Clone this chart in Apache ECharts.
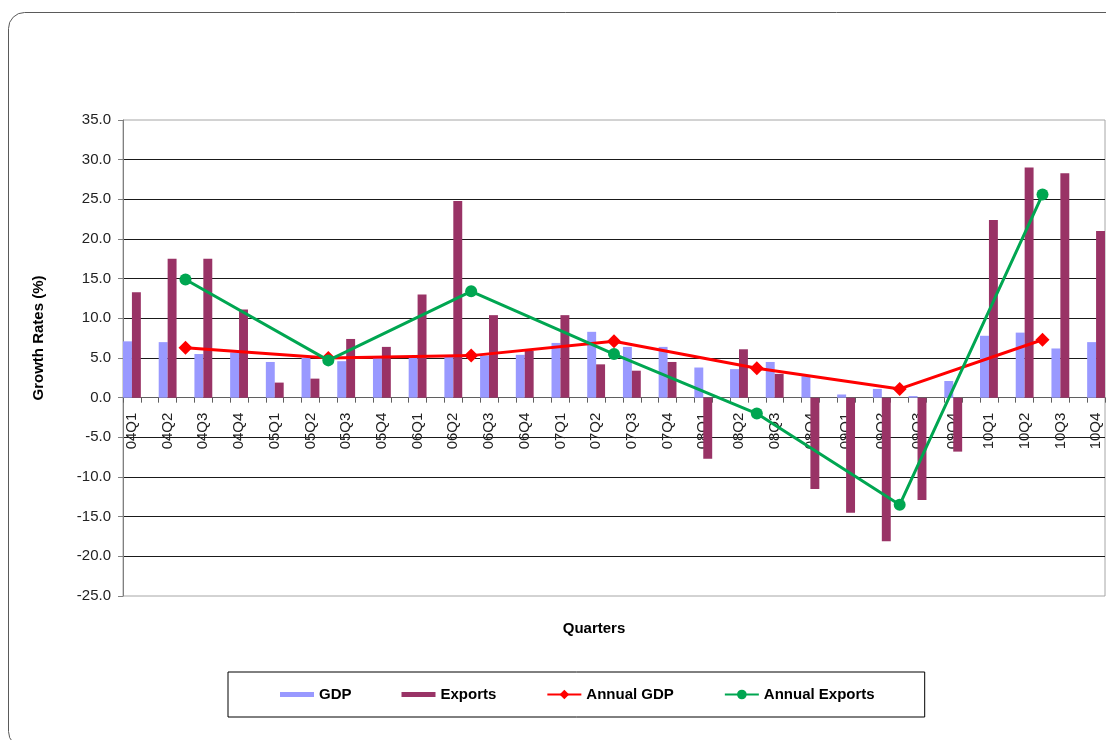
<!DOCTYPE html>
<html>
<head>
<meta charset="utf-8">
<title>Growth Rates: GDP and Exports</title>
<script src="https://cdn.jsdelivr.net/npm/echarts@6/dist/echarts.min.js"></script>
<style>
  html, body { margin: 0; padding: 0; background: #ffffff; }
  #chart { width: 1106px; height: 740px; }
</style>
</head>
<body>
<div id="chart"></div>
<script>
// Quarterly growth rates (%)
const quarters = ['04Q1','04Q2','04Q3','04Q4','05Q1','05Q2','05Q3','05Q4',
                  '06Q1','06Q2','06Q3','06Q4','07Q1','07Q2','07Q3','07Q4',
                  '08Q1','08Q2','08Q3','08Q4','09Q1','09Q2','09Q3','09Q4',
                  '10Q1','10Q2','10Q3','10Q4'];
const gdp = [7.1, 7.0, 5.5, 5.7, 4.5, 5.0, 4.6, 5.2,
             5.2, 5.2, 5.3, 5.4, 6.9, 8.3, 6.4, 6.4,
             3.8, 3.6, 4.5, 2.7, 0.4, 1.1, 0.2, 2.1,
             7.8, 8.2, 6.2, 7.0];
const exportsQ = [13.3, 17.5, 17.5, 11.1, 1.9, 2.4, 7.4, 6.4,
                  13.0, 24.8, 10.4, 5.9, 10.4, 4.2, 3.4, 4.5,
                  -7.7, 6.1, 3.0, -11.5, -14.5, -18.1, -12.9, -6.8,
                  22.4, 29.0, 28.3, 21.0];

// Annual growth rates (%), plotted mid-year
const years = ['2004','2005','2006','2007','2008','2009','2010'];
const annualGdp = [6.3, 5.0, 5.3, 7.1, 3.7, 1.1, 7.3];
const annualExports = [14.9, 4.7, 13.4, 5.5, -2.0, -13.5, 25.6];

// Y axis ticks
const yMin = -25, yMax = 35, yStep = 5;

// Slot layout: every quarter is followed by an empty spacer slot,
// annual points sit in the spacer between Q2 and Q3.
const slots = [];
const gdpSlots = [], expSlots = [], annGdpSlots = [], annExpSlots = [];
quarters.forEach((q, i) => {
  slots.push(q);
  gdpSlots.push(gdp[i]);
  expSlots.push(exportsQ[i]);
  annGdpSlots.push(null);
  annExpSlots.push(null);
  if (i < quarters.length - 1) {
    slots.push('');
    gdpSlots.push(null);
    expSlots.push(null);
    const isMidYear = (i % 4) === 1;
    const y = Math.floor(i / 4);
    annGdpSlots.push(isMidYear ? annualGdp[y] : null);
    annExpSlots.push(isMidYear ? annualExports[y] : null);
  }
});

const FONT = 'Liberation Sans, Arial, Helvetica, sans-serif';
const barIcon = 'path://M0,0M0,3.5h34v5h-34zM34,12';

// Plot box
const gridLeft = 123, gridTop = 120, gridWidth = 982, gridHeight = 476;
// Lift the category axis (line, ticks and labels) up to the zero line
const zeroOffset = -((0 - yMin) / (yMax - yMin)) * gridHeight;

const chart = echarts.init(document.getElementById('chart'), null, { renderer: 'canvas' });

chart.setOption({
  backgroundColor: '#ffffff',
  animation: false,
  textStyle: { fontFamily: FONT },
  grid: {
    left: gridLeft, top: gridTop, width: gridWidth, height: gridHeight,
    show: true, borderColor: '#a6a6a6', borderWidth: 1
  },
  graphic: [
    {
      type: 'rect', z: -10,
      shape: { x: 8.5, y: 12.5, width: 1130, height: 735, r: 16 },
      style: { fill: 'none', stroke: '#5a5a5a', lineWidth: 1 }
    },
    {
      type: 'text', x: 39, y: 338, rotation: Math.PI / 2,
      style: {
        text: 'Growth Rates (%)', font: 'bold 15px ' + FONT, fill: '#000',
        align: 'center', verticalAlign: 'middle'
      }
    },
    {
      type: 'text', x: 594, y: 629,
      style: {
        text: 'Quarters', font: 'bold 15px ' + FONT, fill: '#000',
        align: 'center', verticalAlign: 'middle'
      }
    }
  ],
  legend: {
    left: 228, top: 672,
    orient: 'horizontal',
    padding: [15, 50, 15, 52],
    itemGap: 50,
    itemWidth: 34, itemHeight: 12,
    borderColor: '#000', borderWidth: 1,
    backgroundColor: '#fff',
    textStyle: { fontSize: 15, fontWeight: 'bold', color: '#000', fontFamily: FONT },
    lineStyle: { width: 2 },
    data: [
      { name: 'GDP', icon: barIcon },
      { name: 'Exports', icon: barIcon },
      { name: 'Annual GDP' },
      { name: 'Annual Exports' }
    ]
  },
  xAxis: {
    type: 'category',
    data: slots,
    boundaryGap: true,
    position: 'bottom',
    offset: zeroOffset,
    axisLine: { onZero: false, lineStyle: { color: '#5f5f5f', width: 1 } },
    axisTick: { show: true, interval: 0, length: 5, lineStyle: { color: '#5f5f5f' } },
    axisLabel: {
      interval: 0, rotate: 90, margin: 15,
      fontSize: 15, color: '#222', fontFamily: FONT
    },
    splitLine: { show: false }
  },
  yAxis: {
    type: 'value',
    min: yMin, max: yMax, interval: yStep,
    axisLine: { show: true, lineStyle: { color: '#808080' } },
    axisTick: { show: true, length: 5, lineStyle: { color: '#808080' } },
    axisLabel: {
      margin: 12, fontSize: 15, color: '#222', fontFamily: FONT,
      formatter: v => v.toFixed(1)
    },
    splitLine: {
      show: true, showMinLine: false, showMaxLine: false,
      lineStyle: { color: '#1a1a1a', width: 1 }
    }
  },
  series: [
    {
      name: 'GDP', type: 'bar', data: gdpSlots,
      barGap: '0%', barCategoryGap: '0%',
      itemStyle: { color: '#9999ff' }
    },
    {
      name: 'Exports', type: 'bar', data: expSlots,
      barGap: '0%', barCategoryGap: '0%',
      itemStyle: { color: '#993366' }
    },
    {
      name: 'Annual GDP', type: 'line', data: annGdpSlots,
      connectNulls: true,
      symbol: 'diamond', symbolSize: 14, showAllSymbol: true,
      lineStyle: { color: '#ff0000', width: 3 },
      itemStyle: { color: '#ff0000' },
      z: 5
    },
    {
      name: 'Annual Exports', type: 'line', data: annExpSlots,
      connectNulls: true,
      symbol: 'circle', symbolSize: 12, showAllSymbol: true,
      lineStyle: { color: '#00a651', width: 3 },
      itemStyle: { color: '#00a651' },
      z: 6
    }
  ]
});
</script>
</body>
</html>
